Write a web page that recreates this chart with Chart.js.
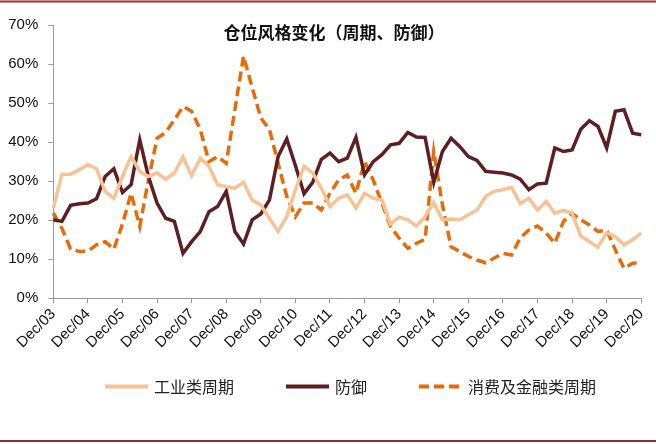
<!DOCTYPE html>
<html>
<head>
<meta charset="utf-8">
<script src="https://cdn.jsdelivr.net/npm/chart.js@4.4.1/dist/chart.umd.min.js"></script>
<style>
  html, body { margin: 0; padding: 0; background: #fff; }
  #wrap { width: 656px; height: 444px; position: relative; }
</style>
</head>
<body>
<div id="wrap"><canvas id="styleChart" width="656" height="444"></canvas></div>
<script>
const TITLE = "仓位风格变化（周期、防御）";
const SERIES_NAMES = ["工业类周期", "防御", "消费及金融类周期"];
const colors = ["#F9C296", "#5E1F22", "#E46C0A"];

// quarterly, Dec/03 .. Dec/20
const years = ["03","04","05","06","07","08","09","10","11","12","13","14","15","16","17","18","19","20"];
const months = ["Mar", "Jun", "Sep", "Dec"];
const quarterLabels = ["Dec/03"];
years.slice(1).forEach(y => months.forEach(m => quarterLabels.push(m + "/" + y)));

const yTicks = [0, 10, 20, 30, 40, 50, 60, 70];

const industrial = [
    23.1, 31.8, 31.8, 32.9, 34.2, 33.2, 27.4, 25.6, 31.2, 36.3,
    32.5, 31.2, 32.1, 30.5, 32.1, 36.2, 31.4, 35.9, 33.8, 29.1,
    28.6, 28.2, 29.7, 25.2, 23.9, 20.5, 17.1, 20.9, 27.8, 33.8,
    32.1, 28.2, 23.5, 25.6, 26.5, 23.1, 26.9, 25.6, 25.2, 19.0,
    20.8, 20.1, 18.5, 20.9, 24.5, 20.1, 20.3, 20.1, 21.4, 22.6,
    26.1, 27.4, 27.8, 28.4, 24.2, 25.6, 22.6, 24.8, 21.8, 22.5,
    21.8, 16.0, 14.5, 13.1, 16.8, 15.8, 13.7, 15.0, 16.7
];
const defensive = [
    20.1, 19.7, 23.8, 24.2, 24.4, 25.5, 31.2, 33.2, 27.1, 29.1,
    40.6, 31.2, 24.4, 20.5, 19.7, 11.5, 14.5, 17.1, 22.2, 23.5,
    27.4, 17.1, 13.9, 20.1, 21.6, 25.2, 36.3, 40.8, 34.0, 26.8,
    29.7, 35.6, 37.2, 35.0, 35.9, 41.2, 31.6, 35.0, 36.8, 39.3,
    39.7, 42.5, 41.3, 41.2, 29.7, 37.6, 41.0, 38.9, 36.3, 35.3,
    32.5, 32.3, 32.1, 31.6, 30.5, 27.8, 29.3, 29.5, 38.5, 37.6,
    38.0, 43.3, 45.5, 44.0, 38.5, 47.9, 48.3, 42.3, 41.9
];
const consumerFin = [
    21.8, 17.9, 12.6, 12.0, 12.1, 13.7, 14.5, 12.6, 19.0, 26.9,
    18.4, 30.3, 41.0, 42.5, 45.7, 49.1, 47.9, 43.2, 35.0, 36.3,
    34.6, 48.3, 62.0, 54.0, 46.2, 43.2, 34.6, 26.1, 20.9, 24.4,
    24.4, 22.6, 26.9, 30.3, 31.6, 26.9, 35.0, 30.3, 24.4, 18.4,
    15.4, 12.8, 14.1, 15.1, 37.6, 24.0, 13.2, 12.0, 10.7, 9.8,
    9.1, 10.3, 11.5, 11.1, 15.4, 17.5, 18.5, 16.7, 14.1, 19.7,
    21.8, 20.1, 18.8, 17.1, 17.5, 12.4, 7.7, 9.0, 9.1
];

const axisColor = "#9a9a9a";
const latin = '"Liberation Sans", Arial, sans-serif';
const cjk = '"Noto Sans CJK SC", sans-serif';

// title inside the plot, the red rules, and a legend laid out like the original
const frame = {
    id: "frame",
    afterDraw(chart) {
        const ctx = chart.ctx;
        ctx.save();
        ctx.strokeStyle = "#8E3232";
        ctx.lineWidth = 2;
        ctx.beginPath();
        ctx.moveTo(0, 1.5); ctx.lineTo(656, 1.5);
        ctx.moveTo(0, 441); ctx.lineTo(656, 441);
        ctx.stroke();

        ctx.fillStyle = "#111";
        ctx.font = "bold 17px " + cjk;
        ctx.textAlign = "center";
        ctx.textBaseline = "middle";
        ctx.fillText(TITLE, 334, 33);

        // legend
        const legendY = 386.5;
        let x = 105;
        ctx.font = "16px " + cjk;
        ctx.textAlign = "left";
        chart.data.datasets.forEach(ds => {
            ctx.strokeStyle = ds.borderColor;
            ctx.lineWidth = 4;
            ctx.setLineDash(ds.borderDash || []);
            ctx.beginPath();
            ctx.moveTo(x, legendY);
            ctx.lineTo(x + 43, legendY);
            ctx.stroke();
            ctx.setLineDash([]);
            ctx.fillStyle = "#222";
            ctx.fillText(ds.label, x + 49, legendY);
            x += 49 + ctx.measureText(ds.label).width + 52;
        });
        ctx.restore();
    }
};

function lineSet(label, data, color, width, dash) {
    return {
        label: label,
        data: data,
        borderColor: color,
        backgroundColor: color,
        borderWidth: width,
        borderDash: dash,
        fill: false,
        tension: 0,
        pointRadius: 0,
        pointHoverRadius: 0
    };
}

new Chart(document.getElementById("styleChart"), {
    type: "line",
    data: {
        labels: quarterLabels,
        datasets: [
            lineSet(SERIES_NAMES[0], industrial, colors[0], 3.5, []),
            lineSet(SERIES_NAMES[1], defensive, colors[1], 3.5, []),
            lineSet(SERIES_NAMES[2], consumerFin, colors[2], 3.5, [10, 5])
        ]
    },
    options: {
        responsive: false,
        animation: false,
        layout: { padding: { left: 0, right: 12.7, top: 25, bottom: 85.7 } },
        plugins: {
            title: { display: false },
            tooltip: { enabled: false },
            legend: { display: false }
        },
        scales: {
            x: {
                afterFit: scale => { scale.height = 60; },
                grid: {
                    drawOnChartArea: false,
                    tickLength: 5,
                    color: c => (c.index % 4 === 0 ? axisColor : "rgba(0,0,0,0)")
                },
                border: { color: axisColor, width: 1 },
                ticks: {
                    autoSkip: false,
                    maxRotation: 45,
                    minRotation: 45,
                    padding: 2,
                    color: "#111",
                    font: { family: latin, size: 15 },
                    callback: (v, i) => (i % 4 === 0 ? quarterLabels[i] : "")
                }
            },
            y: {
                min: yTicks[0],
                max: yTicks[yTicks.length - 1],
                afterFit: scale => { scale.width = 53.3; },
                afterBuildTicks: scale => { scale.ticks = yTicks.map(v => ({ value: v })); },
                grid: { drawOnChartArea: false, tickLength: 5, color: axisColor },
                border: { color: axisColor, width: 1 },
                ticks: {
                    padding: 10,
                    color: "#111",
                    font: { family: latin, size: 15 },
                    callback: v => v + "%"
                }
            }
        }
    },
    plugins: [frame]
});
</script>
</body>
</html>
